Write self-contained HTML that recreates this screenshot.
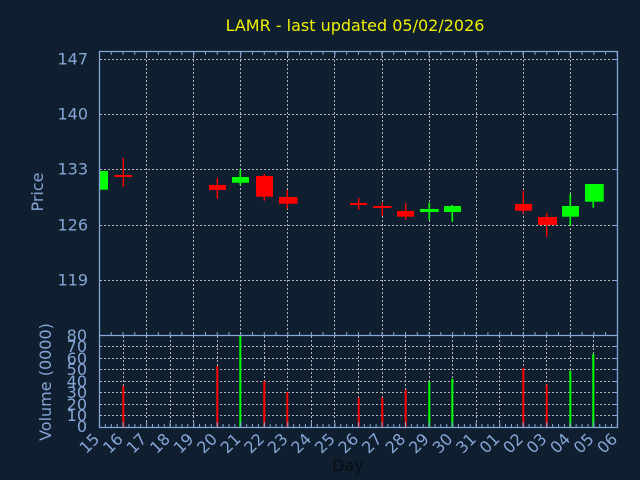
<!DOCTYPE html>
<html><head><meta charset="utf-8"><style>
html,body{margin:0;padding:0;background:#0f1f30;}
svg{display:block;}
text{font-family:"DejaVu Sans","Liberation Sans",sans-serif;}
</style></head><body>
<svg width="640" height="480" viewBox="0 0 640 480" xmlns="http://www.w3.org/2000/svg">
<rect x="0" y="0" width="640" height="480" fill="#0f1f30"/>
<defs>
<clipPath id="pc"><rect x="100" y="52" width="517" height="283"/></clipPath>
<clipPath id="vc"><rect x="100" y="335" width="517" height="92"/></clipPath>
</defs>
<text x="355" y="31" fill="#f0f000" font-size="16" text-anchor="middle">LAMR - last updated 05/02/2026</text>

<!-- price grid -->
<g stroke="#b4b4b4" stroke-width="1" stroke-dasharray="2,2" fill="none">
<path d="M100 59.5H617M100 114.5H617M100 169.5H617M100 225.5H617M100 280.5H617"/>
<path d="M146.5 52V335M193.5 52V335M240.5 52V335M287.5 52V335M334.5 52V335M382.5 52V335M429.5 52V335M476.5 52V335M523.5 52V335M570.5 52V335"/>
<path d="M100 346.5H617M100 358.5H617M100 369.5H617M100 381.5H617M100 392.5H617M100 404.5H617M100 415.5H617"/>
<path d="M123.5 336V427M146.5 336V427M170.5 336V427M193.5 336V427M217.5 336V427M240.5 336V427M264.5 336V427M287.5 336V427M311.5 336V427M334.5 336V427M358.5 336V427M382.5 336V427M405.5 336V427M429.5 336V427M452.5 336V427M476.5 336V427M499.5 336V427M523.5 336V427M546.5 336V427M570.5 336V427M593.5 336V427"/>
</g>

<!-- candles -->
<g clip-path="url(#pc)">
<g stroke="#ff0000" stroke-width="1.4">
<path d="M123.3 158V186.7M217.3 178V198.7M264.3 174V200.7M287.3 190V208.7M358.7 198V209.7M382.3 203V215.7M405.7 203V219.7M523.3 191V213M546.7 213V236.7"/>
</g>
<g stroke="#00ff00" stroke-width="1.6">
<path d="M240.3 169.3V185M429.3 202.7V219.7M452.3 205V221.7M570.3 194V225.7M593.3 184V207.7"/>
</g>
<g fill="#ff0000">
<rect x="114.5" y="175" width="17.5" height="2"/>
<rect x="209" y="185" width="17" height="5"/>
<rect x="256" y="176" width="17" height="20.7"/>
<rect x="279" y="197" width="18.5" height="6.7"/>
<rect x="350" y="203" width="17" height="2"/>
<rect x="373" y="206" width="18.5" height="2"/>
<rect x="397" y="211" width="17" height="5.7"/>
<rect x="515" y="204" width="17" height="6.7"/>
<rect x="538" y="217" width="19" height="8"/>
</g>
<g fill="#00ff00">
<rect x="91" y="171" width="17" height="18.7"/>
<rect x="232" y="177" width="17" height="5.7"/>
<rect x="420" y="209" width="18.7" height="3"/>
<rect x="444" y="206" width="17" height="6"/>
<rect x="562" y="206" width="17" height="10.7"/>
<rect x="585" y="184" width="18.7" height="17.7"/>
</g>
</g>

<!-- volume bars -->
<g clip-path="url(#vc)" stroke-width="2">
<g stroke="#ff0000">
<path d="M123.3 386V427M217.3 366V427M264.3 381V427M287.3 392V427M358.7 397.7V427M382.3 397.7V427M405.7 389.7V427M523.3 367.7V427M546.7 384.7V427"/>
</g>
<g stroke="#00ff00">
<path d="M240.3 335V427M429.3 381.7V427M452.3 378.7V427M570.3 370.7V427M593.3 354V427"/>
</g>
</g>

<!-- axes frame -->
<g stroke="#86a6d6" fill="none">
<path d="M99.5 51.5H617.5V427.5H99.5Z" stroke-width="1.3"/>
<path d="M99.5 335.5H617.5" stroke-width="1.3"/>
<path d="M99 53.5H617.5" stroke-width="3" stroke-dasharray="1 10.77"/>
<path d="M99 54H617.5" stroke-width="5" stroke-dasharray="1 46.07"/>
<path d="M99 333.5H617.5" stroke-width="3" stroke-dasharray="1 10.77"/>
<path d="M99 425.5H617.5" stroke-width="3" stroke-dasharray="1 4.885"/>
<path d="M99 424.5H617.5" stroke-width="5" stroke-dasharray="1 22.54"/>
<path d="M612 59.5H617M612 114.5H617M612 169.5H617M612 225.5H617M612 280.5H617M612 346.5H617M612 358.5H617M612 369.5H617M612 381.5H617M612 392.5H617M612 404.5H617M612 415.5H617" stroke-width="1"/>
</g>

<!-- y labels -->
<g fill="#86a6d6" font-size="16" text-anchor="end">
<text x="88" y="64.5">147</text>
<text x="88" y="119.5">140</text>
<text x="88" y="174.5">133</text>
<text x="88" y="230.5">126</text>
<text x="88" y="285.5">119</text>
<text x="87" y="341">80</text>
<text x="87" y="352">70</text>
<text x="87" y="364">60</text>
<text x="87" y="375">50</text>
<text x="87" y="387">40</text>
<text x="87" y="398">30</text>
<text x="87" y="410">20</text>
<text x="87" y="421">10</text>
<text x="87" y="432">0</text>
</g>
<text transform="translate(43,192) rotate(-90)" fill="#86a6d6" font-size="16" text-anchor="middle">Price</text>
<text transform="translate(51,382) rotate(-90)" fill="#86a6d6" font-size="16" text-anchor="middle">Volume (0000)</text>

<!-- x labels -->
<g fill="#86a6d6" font-size="16" text-anchor="end">
<text transform="translate(100.5,440) rotate(-45)">15</text>
<text transform="translate(124,440) rotate(-45)">16</text>
<text transform="translate(147.6,440) rotate(-45)">17</text>
<text transform="translate(171.1,440) rotate(-45)">18</text>
<text transform="translate(194.6,440) rotate(-45)">19</text>
<text transform="translate(218.2,440) rotate(-45)">20</text>
<text transform="translate(241.7,440) rotate(-45)">21</text>
<text transform="translate(265.3,440) rotate(-45)">22</text>
<text transform="translate(288.8,440) rotate(-45)">23</text>
<text transform="translate(312.3,440) rotate(-45)">24</text>
<text transform="translate(335.9,440) rotate(-45)">25</text>
<text transform="translate(359.4,440) rotate(-45)">26</text>
<text transform="translate(383,440) rotate(-45)">27</text>
<text transform="translate(406.5,440) rotate(-45)">28</text>
<text transform="translate(430,440) rotate(-45)">29</text>
<text transform="translate(453.6,440) rotate(-45)">30</text>
<text transform="translate(477.1,440) rotate(-45)">31</text>
<text transform="translate(500.6,440) rotate(-45)">01</text>
<text transform="translate(524.2,440) rotate(-45)">02</text>
<text transform="translate(547.7,440) rotate(-45)">03</text>
<text transform="translate(571.3,440) rotate(-45)">04</text>
<text transform="translate(594.8,440) rotate(-45)">05</text>
<text transform="translate(618.3,440) rotate(-45)">06</text>
</g>
<text x="332" y="471" fill="#080c10" font-size="16">Day</text>
</svg>
</body></html>
